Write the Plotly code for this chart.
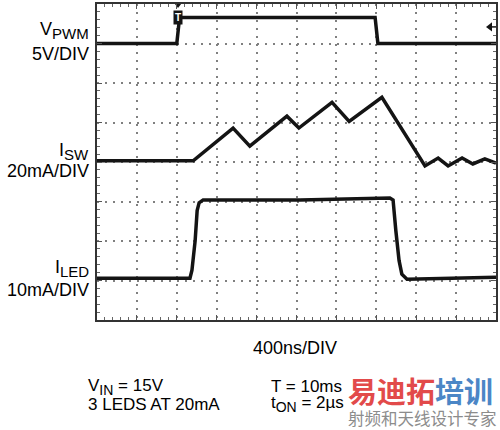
import plotly.graph_objects as go

# scope traces, in divisions (x: 0-10, y: 0-8 from bottom)
vpwm_t = [0, 2.0, 2.07, 6.97, 7.04, 10]
vpwm_v = [7.0, 7.0, 7.66, 7.66, 7.0, 7.0]

isw_t = [0, 2.41, 3.41, 3.83, 4.76, 5.06, 5.89, 6.32, 7.14, 8.22, 8.55, 8.80, 9.15, 9.42, 9.72, 10]
isw_v = [4.03, 4.03, 4.86, 4.40, 5.16, 4.86, 5.51, 5.03, 5.64, 3.90, 4.10, 3.90, 4.10, 3.95, 4.08, 3.97]

iled_t = [0, 2.33, 2.38, 2.46, 2.51, 2.56, 2.66, 5.09, 7.34, 7.42, 7.49, 7.57, 7.64, 7.77, 10]
iled_v = [1.06, 1.06, 1.26, 2.01, 2.77, 2.97, 3.04, 3.04, 3.09, 3.04, 2.26, 1.51, 1.16, 1.03, 1.08]

trigger_time = 2.03
trigger_level = 7.42

FONT = "Liberation Sans, Arial, sans-serif"
TRACE = "#141414"

fig = go.Figure()
for t, v in [(vpwm_t, vpwm_v), (isw_t, isw_v), (iled_t, iled_v)]:
    fig.add_trace(go.Scatter(x=t, y=v, mode='lines',
                             line=dict(color=TRACE, width=3.5), hoverinfo='skip'))

# trigger markers
fig.add_trace(go.Scatter(x=[trigger_time], y=[8], mode='markers', cliponaxis=False,
                         marker=dict(symbol='triangle-down', size=8, color=TRACE)))
fig.add_trace(go.Scatter(x=[9.85, 10], y=[trigger_level, trigger_level], mode='lines',
                         line=dict(color=TRACE, width=1.5)))
fig.add_trace(go.Scatter(x=[9.85], y=[trigger_level], mode='markers',
                         marker=dict(symbol='triangle-left', size=8, color=TRACE)))
fig.add_annotation(x=trigger_time, y=vpwm_v[2], text="<b>T</b>", showarrow=False,
                   font=dict(family=FONT, size=10, color='white'),
                   bgcolor=TRACE, borderpad=1)

axis = dict(showgrid=True, gridcolor='#808080', gridwidth=1.5, griddash='2px,6px',
            showline=True, linecolor='#333', linewidth=1.5, mirror='allticks',
            ticks='inside', ticklen=5, tickcolor='#555', showticklabels=False,
            zeroline=False, dtick=1, tick0=0, fixedrange=True,
            minor=dict(dtick=0.2, ticks='inside', ticklen=3, tickcolor='#666', showgrid=False))
fig.update_xaxes(range=[0, 10], **axis)
fig.update_yaxes(range=[0, 8], **axis)

L, T, W, H = 97, 2, 399, 318


def px(x, y):
    return (x - L) / W, (T + H - y) / H


def label(x, y, text, size=18, anchor='right', color='black', fam=FONT):
    xp, yp = px(x, y)
    fig.add_annotation(x=xp, y=yp, xref='paper', yref='paper', text=text,
                       showarrow=False, xanchor=anchor, yanchor='middle',
                       font=dict(family=fam, size=size, color=color))


def sub(s, size=15):
    return "<sub><span style='font-size:%dpx'>%s</span></sub>" % (size, s)


label(91, 29, "V" + sub("PWM"))
label(91, 52, "5V/DIV")
label(91, 150, "I" + sub("SW"))
label(91, 170, "20mA/DIV")
label(91, 268, "I" + sub("LED"))
label(91, 290, "10mA/DIV")
label(295, 348, "400ns/DIV", anchor='center')
label(86, 387, "V" + sub("IN", 14) + " = 15V", size=17, anchor='left')
label(86, 405, "3 LEDS AT 20mA", size=17, anchor='left')
label(269, 387, "T = 10ms", size=17, anchor='left')
label(269, 405, "t" + sub("ON", 14) + " = 2µs", size=17, anchor='left')

# watermark
CJK = "Noto Sans CJK SC"
label(346, 390, "<b><span style='color:#e24a4a'>易迪拓</span><span style='color:#4b86c6'>培训</span></b>",
      size=29, anchor='left', fam=CJK)
label(346, 419, "射频和天线设计专家", size=16.5, anchor='left', color='#8c8c8c', fam=CJK)

fig.update_layout(width=500, height=430, showlegend=False,
                  margin=dict(l=L, r=500 - L - W, t=T, b=430 - T - H),
                  paper_bgcolor='white', plot_bgcolor='white')

fig.write_html("out.html", config={'displayModeBar': False},
               post_script="document.body.style.margin='0px';")
